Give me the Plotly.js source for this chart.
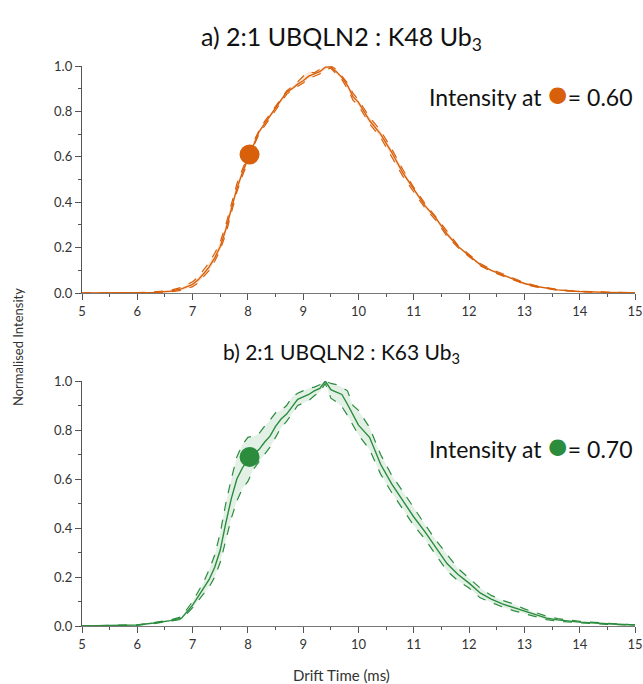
<!DOCTYPE html>
<html>
<head>
<meta charset="utf-8">
<script src="https://cdn.plot.ly/plotly-3.0.1.min.js"></script>
<style>html,body{margin:0;padding:0;background:#fff;}#chart{width:643px;height:684px;}</style>
</head>
<body>
<div id="chart"></div>
<script>
// Drift time grid (ms)
const driftTime = [5, 5.5, 6, 6.3, 6.6, 6.8, 7.0, 7.1, 7.2, 7.3, 7.4, 7.5, 7.6, 7.7, 7.8, 7.9, 8.0, 8.1, 8.2, 8.3, 8.4, 8.5, 8.6, 8.7, 8.8, 8.9, 9.0, 9.1, 9.2, 9.3, 9.4, 9.5, 9.6, 9.7, 9.8, 9.9, 10.0, 10.2, 10.4, 10.6, 10.8, 11.0, 11.2, 11.4, 11.6, 11.8, 12.0, 12.2, 12.4, 12.6, 12.8, 13.0, 13.2, 13.4, 13.6, 13.8, 14.0, 14.5, 15];

// a) K48 Ub3
const k48Mean  = [0, 0, 0.001, 0.003, 0.008, 0.018, 0.038, 0.058, 0.085, 0.115, 0.155, 0.205, 0.28, 0.37, 0.46, 0.53, 0.59, 0.655, 0.71, 0.745, 0.78, 0.82, 0.85, 0.885, 0.9, 0.92, 0.935, 0.955, 0.965, 0.975, 0.995, 0.995, 0.975, 0.95, 0.915, 0.865, 0.84, 0.76, 0.7, 0.62, 0.53, 0.455, 0.385, 0.33, 0.26, 0.205, 0.165, 0.125, 0.1, 0.08, 0.06, 0.042, 0.03, 0.021, 0.014, 0.01, 0.007, 0.003, 0.001];
const k48Upper = [0, 0, 0.002, 0.005, 0.012, 0.025, 0.05, 0.07, 0.1, 0.135, 0.175, 0.225, 0.3, 0.39, 0.48, 0.545, 0.6, 0.665, 0.715, 0.755, 0.79, 0.825, 0.86, 0.89, 0.91, 0.93, 0.955, 0.975, 0.97, 0.985, 1.0, 1.0, 0.985, 0.955, 0.925, 0.88, 0.85, 0.775, 0.715, 0.635, 0.545, 0.465, 0.395, 0.335, 0.27, 0.21, 0.17, 0.13, 0.105, 0.085, 0.064, 0.046, 0.033, 0.023, 0.016, 0.011, 0.008, 0.004, 0.001];
const k48Lower = [0, 0, 0, 0.002, 0.005, 0.012, 0.028, 0.045, 0.072, 0.1, 0.14, 0.19, 0.26, 0.35, 0.445, 0.515, 0.58, 0.645, 0.7, 0.735, 0.77, 0.81, 0.845, 0.875, 0.895, 0.91, 0.925, 0.945, 0.955, 0.965, 0.985, 0.99, 0.965, 0.94, 0.9, 0.85, 0.825, 0.745, 0.685, 0.6, 0.515, 0.445, 0.375, 0.32, 0.25, 0.2, 0.16, 0.12, 0.095, 0.076, 0.057, 0.039, 0.027, 0.019, 0.012, 0.009, 0.006, 0.002, 0];

// b) K63 Ub3
const k63Mean  = [0, 0.001, 0.004, 0.012, 0.022, 0.032, 0.085, 0.12, 0.155, 0.19, 0.24, 0.31, 0.42, 0.52, 0.6, 0.645, 0.68, 0.7, 0.72, 0.75, 0.775, 0.815, 0.845, 0.865, 0.895, 0.925, 0.935, 0.945, 0.96, 0.97, 1.0, 0.965, 0.955, 0.945, 0.905, 0.86, 0.82, 0.77, 0.66, 0.58, 0.51, 0.445, 0.385, 0.32, 0.255, 0.21, 0.175, 0.135, 0.11, 0.09, 0.075, 0.06, 0.045, 0.032, 0.025, 0.02, 0.016, 0.009, 0.004];
const k63Upper = [0, 0.001, 0.005, 0.014, 0.025, 0.038, 0.1, 0.14, 0.18, 0.23, 0.29, 0.38, 0.5, 0.6, 0.69, 0.74, 0.77, 0.775, 0.785, 0.815, 0.84, 0.87, 0.88, 0.9, 0.935, 0.95, 0.96, 0.97, 0.975, 0.985, 1.0, 0.99, 0.985, 0.975, 0.96, 0.9, 0.88, 0.81, 0.7, 0.615, 0.55, 0.48, 0.415, 0.35, 0.29, 0.235, 0.195, 0.155, 0.125, 0.105, 0.09, 0.07, 0.055, 0.04, 0.03, 0.024, 0.019, 0.011, 0.005];
const k63Lower = [0, 0, 0.003, 0.01, 0.019, 0.027, 0.075, 0.105, 0.13, 0.16, 0.2, 0.26, 0.35, 0.44, 0.51, 0.56, 0.59, 0.64, 0.67, 0.7, 0.73, 0.77, 0.81, 0.835, 0.865, 0.9, 0.91, 0.92, 0.94, 0.955, 0.99, 0.93, 0.915, 0.895, 0.86, 0.82, 0.78, 0.72, 0.62, 0.545, 0.475, 0.41, 0.355, 0.29, 0.225, 0.185, 0.155, 0.115, 0.095, 0.078, 0.063, 0.05, 0.037, 0.026, 0.02, 0.016, 0.013, 0.007, 0.003];

// Highlighted points
const k48Dot = {x: [8.03], y: [0.61]};
const k63Dot = {x: [8.03], y: [0.69]};
const k48Value = "0.60";
const k63Value = "0.70";

const orange = '#d9600a';
const green = '#2a8c3c';
const font = 'Lato, "Open Sans", sans-serif';

function panel(xa, ya, mean, upper, lower, dot, color, fill) {
  return [
    {x: driftTime, y: lower, xaxis: xa, yaxis: ya, mode: 'lines', line: {color: color, width: 1.2, dash: 'dash'}, hoverinfo: 'skip'},
    {x: driftTime, y: upper, xaxis: xa, yaxis: ya, mode: 'lines', fill: 'tonexty', fillcolor: fill, line: {color: color, width: 1.2, dash: 'dash'}, hoverinfo: 'skip'},
    {x: driftTime, y: mean, xaxis: xa, yaxis: ya, mode: 'lines', line: {color: color, width: 1.4}},
    {x: dot.x, y: dot.y, xaxis: xa, yaxis: ya, mode: 'markers', marker: {color: color, size: 20}, cliponaxis: false}
  ];
}

const data = [].concat(
  panel('x', 'y', k48Mean, k48Upper, k48Lower, k48Dot, orange, 'rgba(217,96,10,0.15)'),
  panel('x2', 'y2', k63Mean, k63Upper, k63Lower, k63Dot, green, 'rgba(42,140,60,0.13)')
);

function xax(anchor) {
  return {
    anchor: anchor, domain: [0, 1], range: [5, 15], dtick: 1, tick0: 5,
    showgrid: false, zeroline: false, showline: true, linecolor: '#777', linewidth: 1.2,
    ticks: 'outside', ticklen: 6, tickcolor: '#555', tickwidth: 1,
    minor: {dtick: 0.5, ticks: 'outside', ticklen: 3, tickcolor: '#555', showgrid: false},
    tickfont: {family: font, size: 13, color: '#333'}
  };
}
function yax(anchor, domain) {
  return {
    anchor: anchor, domain: domain, range: [0, 1], dtick: 0.2, tick0: 0, tickformat: '.1f',
    showgrid: false, zeroline: false, showline: true, linecolor: '#555', linewidth: 1.2,
    ticks: 'outside', ticklen: 6, tickcolor: '#555', tickwidth: 1,
    minor: {dtick: 0.1, ticks: 'outside', ticklen: 3, tickcolor: '#555', showgrid: false},
    tickfont: {family: font, size: 13, color: '#333'}
  };
}

const dotSpan = c => '<span style="color:' + c + ';font-size:34px">●</span>';

const layout = {
  width: 643, height: 684,
  margin: {l: 82, r: 8, t: 66, b: 58},
  paper_bgcolor: '#fff', plot_bgcolor: '#fff',
  showlegend: false,
  font: {family: font, color: '#222'},
  xaxis: xax('y'),
  yaxis: yax('x', [0.5946, 1]),
  xaxis2: xax('y2'),
  yaxis2: yax('x2', [0, 0.4375]),
  annotations: [
    {text: 'a) 2:1 UBQLN2 : K48 Ub<sub>3</sub>', xref: 'paper', yref: 'paper', x: 0.47, y: 1.05, xanchor: 'center', yanchor: 'middle', showarrow: false, font: {family: font, size: 25, color: '#111'}},
    {text: 'b) 2:1 UBQLN2 : K63 Ub<sub>3</sub>', xref: 'paper', yref: 'paper', x: 0.47, y: 0.488, xanchor: 'center', yanchor: 'middle', showarrow: false, font: {family: font, size: 21, color: '#111'}},
    {text: 'Intensity at ' + dotSpan(orange) + '= ' + k48Value, xref: 'paper', yref: 'paper', x: 1.0, y: 0.953, xanchor: 'right', yanchor: 'middle', showarrow: false, font: {family: font, size: 23, color: '#111'}},
    {text: 'Intensity at ' + dotSpan(green) + '= ' + k63Value, xref: 'paper', yref: 'paper', x: 1.0, y: 0.325, xanchor: 'right', yanchor: 'middle', showarrow: false, font: {family: font, size: 23, color: '#111'}},
    {text: 'Normalised Intensity', xref: 'paper', yref: 'paper', x: -0.116, y: 0.498, xanchor: 'center', yanchor: 'middle', textangle: -90, showarrow: false, font: {family: font, size: 13, color: '#333'}},
    {text: 'Drift Time (ms)', xref: 'paper', yref: 'paper', x: 0.47, y: -0.087, xanchor: 'center', yanchor: 'middle', showarrow: false, font: {family: font, size: 15, color: '#333'}}
  ]
};

Plotly.newPlot('chart', data, layout, {displayModeBar: false, staticPlot: true});
</script>
</body>
</html>
